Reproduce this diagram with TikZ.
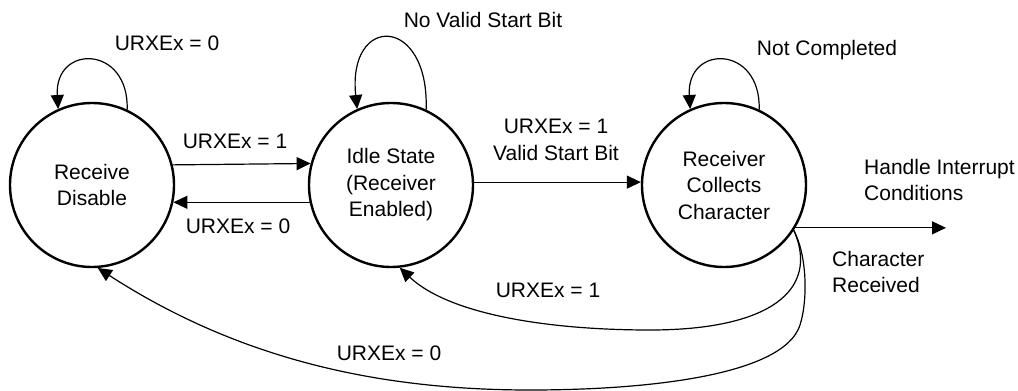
\documentclass[tikz,border=0pt]{standalone}
\usepackage{fontspec}
\setmainfont{Liberation Sans}
\usetikzlibrary{arrows.meta}
\newcommand{\mylblfont}{\fontsize{21}{26.5}\selectfont}
\begin{document}
\begin{tikzpicture}[x=1pt,y=-1pt,
  state/.style={circle,draw,line width=2.4pt,minimum size=164pt,inner sep=0pt,align=center,font=\mylblfont},
  conn/.style={line width=1.2pt,-{Triangle[length=14pt,width=13pt]}},
  lab/.style={inner sep=0pt,align=center,font=\mylblfont},
  labl/.style={inner sep=0pt,align=left,anchor=west,font=\mylblfont},
]
\useasboundingbox (0,0) rectangle (1018,391);

% states
\node[state] (L) at (92,185) {Receive\\Disable};
\node[state] (M) at (391,185) {Idle State\\(Receiver\\Enabled)};
\node[state] (R) at (724,185) {Receiver\\Collects\\Character};

% self loops
\draw[conn] (L.65) .. controls +(2,-65) and +(-4,-65) .. (L.114);
\draw[conn] (M.65) .. controls +(3,-95) and +(-10,-95) .. (M.114);
\draw[conn] (R.65) .. controls +(2,-65) and +(-4,-65) .. (R.114);

% straight transitions
\draw[conn] (L.14.8) -- (M.165.2);
\draw[conn] (M.192) -- (L.-12);
\draw[conn] (M.2) -- (R.178);
\coordinate (HI) at (946,228);
\draw[conn] (R.-31.6) -- (R.-31.6 -| HI);

% return curves
\coordinate (P1) at (650,330);
\draw[conn] (R.-33) .. controls (820,290) and (770,330) .. (P1)
  .. controls (550,330) and (450,315) .. (M.-84);
\coordinate (A0) at (800,325);
\coordinate (B0) at (530,390);
\draw[conn] (R.-33) .. controls (807,255) and (808,300) .. (A0)
  .. controls (784,375) and (650,390) .. (B0)
  .. controls (380,390) and (240,360) .. (L.-86);

% labels
\node[lab] (t1) at (167,43.5) {URXEx = 0};
\node[lab] (t2) at (235,141) {URXEx = 1};
\node[lab] (t3) at (238,226) {URXEx = 0};
\node[lab] (t4) at (483,20) {No Valid Start Bit};
\node[lab] (t5) at (556,140) {URXEx = 1\\Valid Start Bit};
\node[lab] (t6) at (827,50) {Not Completed};
\node[labl] (t7) at (864,180) {Handle Interrupt\\Conditions};
\node[labl] (t8) at (832,272) {Character\\Received};
\node[lab] (t9) at (548,290) {URXEx = 1};
\node[lab] (t10) at (389,353) {URXEx = 0};
\end{tikzpicture}
\end{document}
